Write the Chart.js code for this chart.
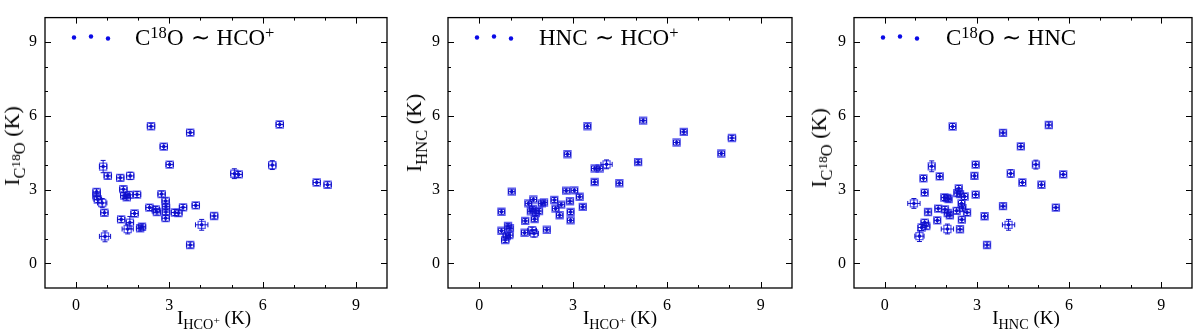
<!DOCTYPE html>
<html>
<head>
<meta charset="utf-8">
<script src="https://cdn.jsdelivr.net/npm/chart.js@4.4.1/dist/chart.umd.min.js"></script>
<style>
  body { margin: 0; background: #fff; }
  #wrap { position: relative; width: 1200px; height: 330px; font-family: 'Liberation Serif', 'Times New Roman', serif; color: #000; }
  .panel { position: absolute; top: 0; width: 400px; height: 330px; }
  .lbl { position: absolute; white-space: nowrap; line-height: 1; }
  .leg { font-size: 23px; }
  .leg .op { margin: 0 7px; }
  .xt { font-size: 19px; transform: translateX(-50%); }
  .yt { font-size: 22px; transform: translate(-50%, -50%) rotate(-90deg); }
  .sub { font-size: 0.75em; position: relative; top: 0.35em; }
  .sup { font-size: 0.72em; position: relative; top: -0.45em; }
  .sub .sup { font-size: 0.8em; top: -0.4em; }
</style>
</head>
<body>
<div id="wrap">
  <div class="panel" style="left:0px"><canvas id="c1" width="400" height="330"></canvas></div>
  <div class="panel" style="left:400px"><canvas id="c2" width="400" height="330"></canvas></div>
  <div class="panel" style="left:800px"><canvas id="c3" width="400" height="330"></canvas></div>

  <div class="lbl leg" style="left:135px; top:26px">C<span class="sup">18</span>O<span class="op">∼</span>HCO<span class="sup">+</span></div>
  <div class="lbl leg" style="left:539px; top:26px">HNC<span class="op">∼</span>HCO<span class="sup">+</span></div>
  <div class="lbl leg" style="left:946px; top:26px">C<span class="sup">18</span>O<span class="op">∼</span>HNC</div>

  <div class="lbl xt" style="left:214px; top:308px">I<span class="sub">HCO<span class="sup">+</span></span> (K)</div>
  <div class="lbl xt" style="left:620px; top:308px">I<span class="sub">HCO<span class="sup">+</span></span> (K)</div>
  <div class="lbl xt" style="left:1026px; top:308px">I<span class="sub">HNC</span> (K)</div>

  <div class="lbl yt" style="left:12px; top:146px">I<span class="sub">C<span class="sup">18</span>O</span> (K)</div>
  <div class="lbl yt" style="left:414px; top:133px">I<span class="sub">HNC</span> (K)</div>
  <div class="lbl yt" style="left:819px; top:148px">I<span class="sub">C<span class="sup">18</span>O</span> (K)</div>
</div>
<script>
const tickVals = [0, 1, 2, 3, 4, 5, 6, 7, 8, 9];

// C18O ~ HCO+
const p1X = [2.41,3.67,6.55,2.82,3.01,6.31,0.87,1.02,1.42,1.74,5.09,5.23,7.74,8.09,0.66,1.52,0.66,0.70,0.84,1.55,
             1.63,1.71,1.96,2.75,0.91,1.88,2.36,2.56,2.60,2.88,2.89,2.89,2.88,3.18,3.29,3.44,3.85,4.44,4.04,1.45,
             1.73,1.66,2.06,2.12,0.93,3.67];
const p1Y = [5.58,5.32,5.65,4.75,4.02,4.00,3.94,3.56,3.48,3.56,3.65,3.62,3.29,3.20,2.91,3.02,2.73,2.60,2.46,2.76,
             2.69,2.79,2.80,2.82,2.06,2.03,2.27,2.20,2.09,2.54,2.31,2.09,1.84,2.07,2.05,2.28,2.36,1.93,1.57,1.79,
             1.66,1.40,1.43,1.49,1.10,0.75];
const p1Xerr = [.12,.12,.12,.12,.12,.12,.12,.12,.12,.12, .12,.12,.12,.12,.12,.12,.12,.12,.15,.12,
                .12,.12,.12,.12,.12,.12,.12,.12,.12,.12, .12,.12,.12,.12,.12,.12,.12,.12,.20,.12,
                .12,.18,.12,.12,.18,.12];
const p1Yerr = [.12,.12,.12,.12,.12,.18,.25,.12,.12,.15, .20,.12,.12,.12,.12,.12,.12,.12,.18,.12,
                .12,.12,.12,.12,.12,.12,.12,.12,.12,.12, .12,.12,.12,.12,.12,.12,.12,.12,.22,.12,
                .25,.20,.12,.12,.22,.12];

// HNC ~ HCO+
const p2X = [3.46,5.24,6.54,6.31,8.08,7.74,2.82,5.08,3.69,3.85,4.07,3.69,4.48,1.04,2.78,3.04,3.21,2.90,3.31,2.40,
             1.73,1.57,2.00,2.07,2.62,2.44,0.71,1.65,1.71,1.81,1.91,2.57,2.92,1.47,1.77,2.92,0.92,0.98,0.71,1.45,
             1.69,1.75,2.16,0.88,0.96,0.83];
const p2Y = [5.58,5.81,5.35,4.92,5.10,4.47,4.44,4.12,3.86,3.86,4.03,3.31,3.26,2.92,2.96,2.97,2.71,2.53,2.30,2.58,
             2.60,2.44,2.44,2.48,2.39,2.23,2.10,2.12,2.22,2.05,2.13,1.96,2.09,1.73,1.80,1.75,1.52,1.43,1.33,1.25,
             1.35,1.22,1.37,1.11,1.15,0.95];
const p2Xerr = [.10,.10,.10,.10,.12,.10,.10,.10,.10,.10, .18,.10,.10,.10,.10,.10,.10,.10,.10,.10,
                .10,.10,.10,.10,.10,.10,.10,.10,.10,.10, .10,.10,.10,.10,.10,.10,.10,.10,.10,.10,
                .14,.14,.10,.12,.12,.12];
const p2Yerr = [.10,.10,.10,.10,.10,.10,.10,.10,.10,.10, .18,.10,.10,.10,.10,.10,.10,.10,.10,.10,
                .10,.10,.10,.10,.10,.10,.10,.10,.10,.10, .10,.10,.10,.10,.10,.10,.10,.10,.10,.10,
                .12,.15,.10,.10,.10,.10];

// C18O ~ HNC
const p3X = [2.21,3.85,5.34,4.43,1.53,2.96,4.92,1.26,1.79,2.92,4.10,5.81,4.48,5.10,5.57,1.30,0.95,1.94,2.03,2.08,
             2.36,2.41,2.45,2.60,2.96,1.41,1.74,1.96,2.05,2.12,2.34,2.50,2.53,2.68,2.51,1.71,1.30,1.20,1.13,2.04,
             2.45,3.25,3.85,4.03,3.33,1.35];
const p3Y = [5.57,5.31,5.63,4.76,3.95,4.02,4.02,3.46,3.54,3.56,3.66,3.62,3.29,3.20,2.27,2.88,2.44,2.68,2.66,2.62,
             2.86,3.05,2.82,2.72,2.80,2.09,2.23,2.20,2.05,1.96,2.14,2.44,2.25,2.07,1.78,1.75,1.66,1.46,1.11,1.40,
             1.39,1.92,2.33,1.57,0.75,1.52];
const p3Xerr = [.10,.10,.10,.10,.10,.10,.10,.10,.10,.10, .10,.10,.10,.10,.10,.10,.20,.10,.10,.10,
                .10,.10,.10,.10,.10,.10,.10,.10,.10,.10, .10,.10,.10,.10,.10,.10,.12,.12,.15,.20,
                .10,.10,.10,.20,.10,.12];
const p3Yerr = [.12,.12,.12,.12,.22,.12,.18,.12,.12,.12, .15,.12,.12,.12,.12,.12,.20,.12,.12,.12,
                .12,.12,.12,.12,.12,.12,.12,.12,.12,.12, .12,.12,.12,.12,.12,.12,.12,.12,.22,.20,
                .12,.12,.12,.22,.12,.12];

const blue = '#0a0ae6';

const frame = {
    id: 'frame',
    afterDraw(chart) {
        const {ctx, chartArea: a, scales: {x, y}} = chart;
        ctx.save();
        ctx.strokeStyle = '#000';
        ctx.lineWidth = 1.3;
        ctx.strokeRect(a.left, a.top, a.right - a.left, a.bottom - a.top);
        ctx.lineWidth = 1;
        ctx.beginPath();
        tickVals.forEach(v => {
            const len = v % 3 === 0 ? 6 : 3;
            const px = Math.round(x.getPixelForValue(v)) + 0.5;
            ctx.moveTo(px, a.bottom); ctx.lineTo(px, a.bottom - len);
            ctx.moveTo(px, a.top); ctx.lineTo(px, a.top + len);
            const py = Math.round(y.getPixelForValue(v)) + 0.5;
            ctx.moveTo(a.left, py); ctx.lineTo(a.left + len, py);
            ctx.moveTo(a.right, py); ctx.lineTo(a.right - len, py);
        });
        ctx.stroke();
        // legend dots
        ctx.fillStyle = blue;
        [[29, 37.5], [46, 36.5], [63, 38.5]].forEach(([dx, dy]) => {
            ctx.beginPath();
            ctx.arc(a.left + dx, dy, 2.2, 0, Math.PI * 2);
            ctx.fill();
        });
        ctx.restore();
    }
};

const errorBars = {
    id: 'errorBars',
    afterDatasetsDraw(chart, args, opts) {
        const {ctx, scales: {x, y}} = chart;
        ctx.save();
        ctx.strokeStyle = '#1010c8';
        ctx.lineWidth = 1;
        ctx.beginPath();
        opts.xs.forEach((xv, i) => {
            const yv = opts.ys[i];
            const px = x.getPixelForValue(xv), py = y.getPixelForValue(yv);
            const x0 = x.getPixelForValue(xv - opts.xe[i]), x1 = x.getPixelForValue(xv + opts.xe[i]);
            const y0 = y.getPixelForValue(yv - opts.ye[i]), y1 = y.getPixelForValue(yv + opts.ye[i]);
            ctx.moveTo(x0, py); ctx.lineTo(x1, py);
            ctx.moveTo(x0, py - 2.5); ctx.lineTo(x0, py + 2.5);
            ctx.moveTo(x1, py - 2.5); ctx.lineTo(x1, py + 2.5);
            ctx.moveTo(px, y0); ctx.lineTo(px, y1);
            ctx.moveTo(px - 2.5, y0); ctx.lineTo(px + 2.5, y0);
            ctx.moveTo(px - 2.5, y1); ctx.lineTo(px + 2.5, y1);
        });
        ctx.stroke();
        ctx.restore();
    }
};

function axis(fit) {
    return {
        type: 'linear', min: -1, max: 10,
        afterFit: fit,
        grid: {display: false, drawTicks: false},
        border: {display: false},
        ticks: {
            stepSize: 1, autoSkip: false, maxRotation: 0, padding: 8,
            color: '#000',
            font: {family: 'Liberation Serif', size: 16},
            callback: v => (v % 3 === 0 ? v : '')
        }
    };
}

function makePanel(id, xs, ys, xe, ye, leftW, padR) {
    const pts = xs.map((v, i) => ({x: v, y: ys[i]}));
    new Chart(document.getElementById(id), {
        type: 'scatter',
        data: {
            datasets: [{
                data: pts,
                pointStyle: 'rect',
                pointRadius: 5,
                pointBorderWidth: 1.3,
                pointBackgroundColor: 'rgba(0,0,0,0)',
                pointBorderColor: 'rgba(40,40,235,0.75)'
            }, {
                data: pts,
                pointStyle: 'circle',
                pointRadius: 1.8,
                pointBorderWidth: 0,
                pointBackgroundColor: blue
            }]
        },
        options: {
            responsive: false,
            animation: false,
            devicePixelRatio: 1,
            layout: {padding: {top: 5, right: padR, left: 0, bottom: 0}},
            plugins: {
                legend: {display: false},
                tooltip: {enabled: false},
                errorBars: {xs: xs, ys: ys, xe: xe, ye: ye}
            },
            scales: {
                x: axis(s => { s.height = 42; }),
                y: axis(s => { s.width = leftW; })
            }
        },
        plugins: [errorBars, frame]
    });
}

Chart.defaults.font.family = 'Liberation Serif';
makePanel('c1', p1X, p1Y, p1Xerr, p1Yerr, 45, 13);
makePanel('c2', p2X, p2Y, p2Xerr, p2Yerr, 48, 8);
makePanel('c3', p3X, p3Y, p3Xerr, p3Yerr, 54, 2);
</script>
</body>
</html>
